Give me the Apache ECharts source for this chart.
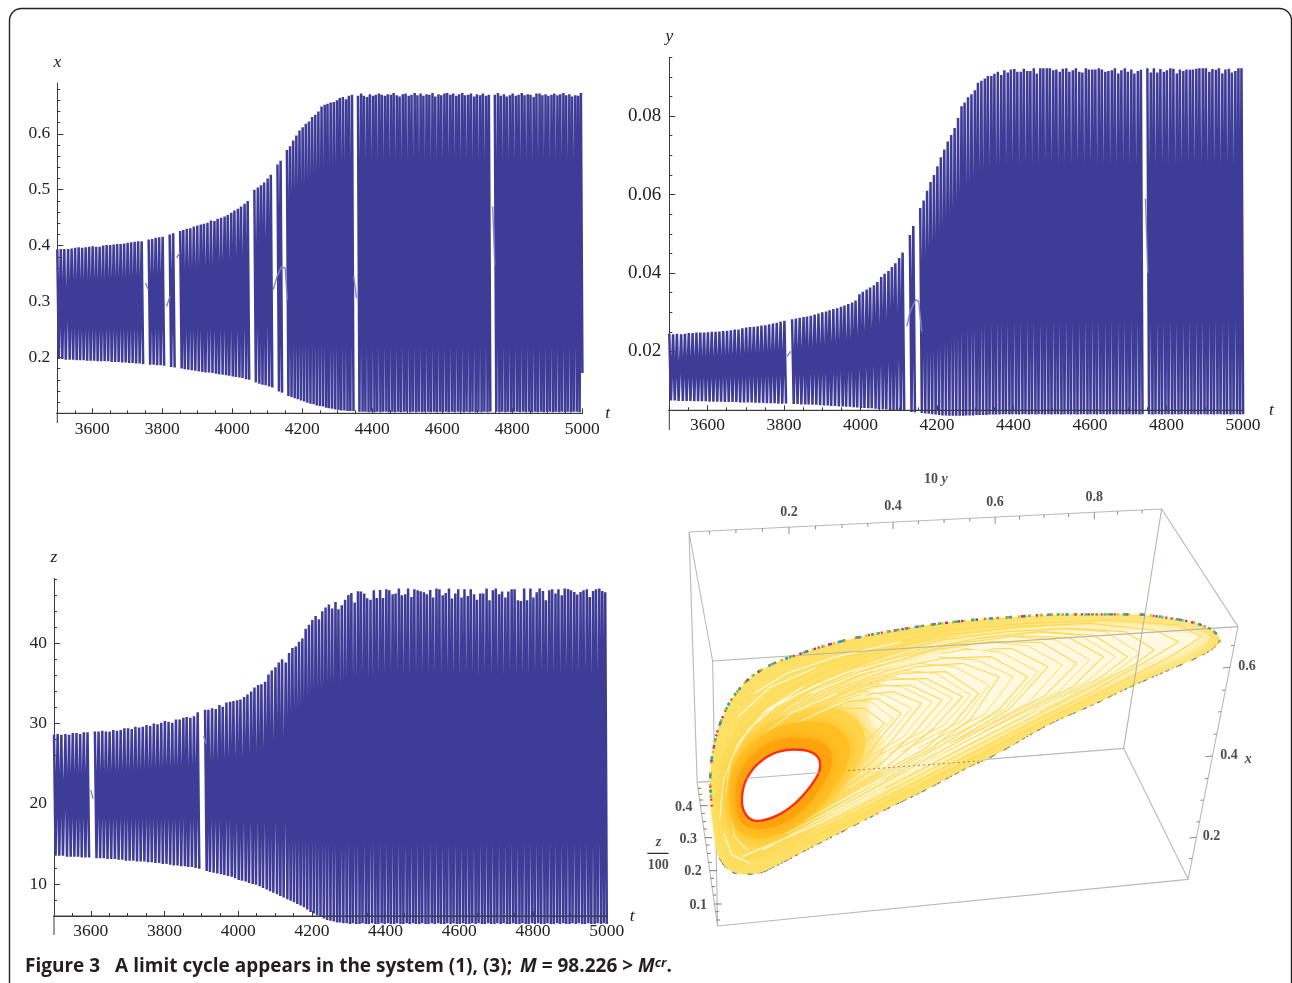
<!DOCTYPE html>
<html><head><meta charset="utf-8">
<script src="https://cdn.jsdelivr.net/npm/echarts@6/dist/echarts.min.js"></script>
<style>html,body{margin:0;padding:0;background:#fff}#c{width:1292px;height:983px}</style>
</head><body><div id="c"></div>
<script>
// ---------- shared time of each oscillation (one per spike) ----------
const cycleTimes = [
3500,3510,3520,3531,3541,3551,3561,3571,3581,3591,
3601,3611,3621,3631,3641,3651,3661,3671,3681,3691,
3701,3711,3721,3731,3741,3751,3761,3771,3781,3791,
3801,3811,3821,3831,3841,3851,3860,3870,3880,3890,
3900,3910,3919,3929,3939,3949,3958,3968,3978,3987,
3997,4006,4016,4025,4035,4044,4054,4063,4073,4082,
4091,4101,4110,4119,4129,4138,4147,4156,4165,4174,
4183,4192,4201,4210,4219,4228,4237,4246,4255,4264,
4272,4281,4290,4299,4307,4316,4325,4333,4342,4350,
4359,4368,4376,4385,4393,4402,4410,4419,4427,4436,
4444,4453,4461,4470,4478,4487,4495,4504,4512,4521,
4529,4538,4546,4555,4563,4572,4580,4589,4597,4606,
4614,4623,4631,4640,4648,4657,4665,4674,4682,4691,
4699,4708,4716,4725,4733,4742,4750,4759,4767,4776,
4784,4793,4801,4810,4818,4827,4835,4844,4852,4861,
4869,4878,4886,4895,4903,4912,4920,4929,4937,4946,
4954,4963,4971,4980,4988,4996];
const halfCycle = 4.3;

// ---------- x(t) ----------
const xPeaks = [
.393,.394,.394,.394,.395,.396,.397,.396,.397,.398,
.399,.398,.398,.400,.401,.401,.402,.403,.403,.404,
.405,.406,.407,.408,.408,null,.411,.412,.414,.415,
.416,null,.420,.422,null,.426,.428,.430,.431,.434,
.436,.438,.439,.441,.445,.444,.448,.450,.452,.455,
.459,.463,.466,.470,.475,.480,null,.500,.504,.508,
.513,.520,.527,null,.545,.552,null,.571,.578,.588,
.597,.606,.612,.618,.622,.630,.634,.640,.649,.652,
.654,.656,.657,.660,.664,.666,.662,.668,.670,null,
.668,.672,.668,.666,.671,.668,.670,.672,.670,.668,
.671,.670,.673,.669,.667,.671,.672,.668,.670,.673,
.669,.672,.668,.671,.670,.673,.667,.671,.669,.672,
.673,.670,.672,.668,.671,.673,.669,.670,.672,.667,
.671,.669,.672,.668,.670,null,.670,.673,.668,.671,
.667,.669,.672,.668,.670,.673,.669,.671,.670,.666,
.672,.672,.669,.671,.668,.670,.672,.669,.671,.673,
.669,.671,.667,.669,.668,.673];
const xTroughs = [
.197,.197,.196,.196,.196,.195,.195,.195,.194,.194,
.194,.193,.193,.193,.193,.192,.192,.192,.191,.191,
.190,.190,.189,.189,.188,null,.187,.187,.186,.186,
.185,null,.183,.182,null,.180,.179,.178,.177,.176,
.175,.174,.173,.173,.172,.171,.170,.169,.168,.167,
.166,.165,.164,.163,.161,.160,null,.155,.153,.151,
.150,.148,.146,null,.139,.137,null,.131,.129,.127,
.125,.123,.121,.119,.117,.116,.114,.113,.112,.110,
.109,.108,.107,.106,.105,.105,.104,.104,.104,null,
.103,.103,.103,.102,.103,.102,.103,.102,.103,.103,
.102,.103,.102,.103,.102,.103,.103,.102,.103,.102,
.103,.102,.103,.103,.102,.103,.102,.103,.102,.103,
.102,.103,.102,.103,.103,.102,.103,.102,.103,.102,
.103,.102,.103,.102,.103,null,.103,.102,.103,.102,
.103,.102,.103,.103,.102,.103,.102,.103,.102,.103,
.102,.103,.102,.103,.103,.102,.103,.102,.103,.102,
.103,.102,.103,.103,.102,.172];
const xKinks = [[[3752,.333],[3760,.321]],[[3812,.291],[3822,.309]],[[3841,.378],[3850,.387]],
 [[4117,.321],[4128,.345],[4140,.362],[4151,.36],[4157,.303]],[[4347,.3445],[4355,.306]],[[4744,.47],[4750,.365]]];

// ---------- y(t) ----------
const yPeaks = [
.0245,.0244,.0245,.0244,.0245,.0247,.0247,.0248,.0248,.0248,
.0249,.0250,.0250,.0251,.0252,.0253,.0254,.0256,.0256,.0259,
.0261,.0262,.0263,.0264,.0266,.0267,.0269,.0271,.0273,.0276,
.0278,null,.0282,.0284,.0286,.0288,.0289,.0291,.0294,.0297,
.0300,.0302,.0305,.0308,.0310,.0314,.0317,.0321,.0325,.0330,
.0346,.0352,.0358,.0363,.0369,.0377,.0390,.0398,.0405,.0415,
.0425,.0438,.0452,null,.0497,.0520,null,.0566,.0585,.0610,
.0632,.0650,.0672,.0695,.0715,.0735,.0752,.0770,.0795,.0825,
.0835,.0848,.0856,.0866,.0885,.0890,.0896,.0902,.0902,.0908,
.0913,.0905,.0917,.0911,.0919,.0920,.0913,.0913,.0921,.0915,
.0915,.0922,.0909,.0922,.0922,.0922,.0922,.0917,.0919,.0913,
.0921,.0922,.0913,.0917,.0922,.0913,.0911,.0922,.0919,.0919,
.0919,.0922,.0919,.0913,.0915,.0917,.0922,.0909,.0917,.0922,
.0913,.0919,.0909,.0915,.0918,null,.0922,.0911,.0922,.0911,
.0920,.0913,.0917,.0922,.0921,.0909,.0919,.0915,.0919,.0918,
.0919,.0921,.0922,.0922,.0922,.0913,.0920,.0918,.0922,.0909,
.0919,.0921,.0911,.0915,.0922,.0922];
const yTroughs = [
.0075,.0075,.0074,.0074,.0074,.0074,.0073,.0073,.0073,.0073,
.0072,.0072,.0072,.0072,.0071,.0071,.0071,.0071,.0070,.0070,
.0070,.0070,.0069,.0069,.0069,.0068,.0068,.0068,.0067,.0067,
.0067,null,.0066,.0066,.0065,.0065,.0065,.0064,.0064,.0063,
.0062,.0062,.0061,.0061,.0060,.0060,.0059,.0059,.0058,.0057,
.0056,.0056,.0055,.0055,.0054,.0053,.0053,.0052,.0051,.0051,
.0050,.0049,.0048,null,.0046,.0045,null,.0043,.0042,.0041,
.0040,.0039,.0038,.0037,.0037,.0036,.0036,.0036,.0036,.0036,
.0037,.0037,.0037,.0038,.0038,.0038,.0038,.0039,.0039,.0039,
.0039,.0040,.0040,.0039,.0040,.0040,.0039,.0040,.0040,.0039,
.0040,.0039,.0040,.0040,.0039,.0040,.0039,.0040,.0040,.0039,
.0040,.0040,.0039,.0040,.0039,.0040,.0040,.0039,.0040,.0040,
.0039,.0040,.0040,.0039,.0040,.0039,.0040,.0040,.0039,.0040,
.0040,.0039,.0040,.0039,.0040,null,.0040,.0039,.0040,.0040,
.0039,.0040,.0040,.0039,.0040,.0039,.0040,.0040,.0039,.0040,
.0040,.0039,.0040,.0040,.0039,.0040,.0039,.0040,.0040,.0039,
.0040,.0039,.0040,.0040,.0039,.0040];
const yKinks = [[[3808,.0187],[3817,.020]],[[4121,.0264],[4130,.0302],[4144,.0332],[4152,.0328],[4160,.0251]],[[4745,.059],[4751,.040]]];

// ---------- z(t) ----------
const zPeaks = [
28.6,28.7,28.6,28.7,28.6,28.8,28.8,28.7,28.9,28.9,
null,29.0,29.0,29.1,29.0,29.0,29.2,29.1,29.2,29.4,
29.4,29.3,29.6,29.5,29.6,29.8,29.7,30.0,29.9,30.1,
30.3,30.2,30.1,30.5,30.5,30.7,30.8,30.7,30.9,31.4,
null,31.7,31.7,31.9,31.8,32.3,32.1,32.6,32.7,32.8,
32.9,33.0,33.3,33.6,34.0,34.5,34.8,34.9,35.2,36.1,
36.6,37.0,37.6,38.0,37.6,38.8,39.4,39.6,40.2,40.6,
41.8,42.3,42.9,43.4,43.0,44.0,44.45,44.82,44.32,45.15,
44.24,44.74,45.44,46.03,46.27,45.07,46.48,46.44,46.19,45.61,
45.44,46.6,45.65,46.65,45.65,46.73,46.6,46.11,46.19,46.82,
45.99,46.11,46.82,45.78,46.73,46.6,46.48,46.36,46.11,46.65,
45.7,46.82,46.73,45.99,46.27,46.82,45.57,46.19,46.73,45.7,
46.73,45.9,46.73,46.11,45.44,46.19,46.19,46.82,45.36,46.6,
46.82,46.11,46.44,45.7,46.44,46.73,46.73,45.36,45.27,46.82,
45.36,46.82,45.7,46.36,46.82,46.52,45.36,46.6,46.73,46.19,
46.73,45.99,46.82,46.78,46.6,46.4,46.07,46.4,46.6,46.73,
45.78,46.52,46.73,46.82,46.52,46.36];
const zTroughs = [
13.5,13.5,13.5,13.4,13.4,13.4,13.4,13.3,13.3,13.3,
null,13.2,13.2,13.2,13.1,13.1,13.1,13.0,13.0,12.9,
12.9,12.9,12.8,12.8,12.8,12.7,12.7,12.6,12.6,12.5,
12.5,12.4,12.3,12.3,12.2,12.2,12.1,12.1,12.0,11.9,
null,11.6,11.5,11.4,11.3,11.2,11.1,11.0,10.9,10.7,
10.5,10.4,10.3,10.1,10.0,9.9,9.7,9.5,9.3,9.1,
8.9,8.7,8.5,8.3,8.1,7.9,7.7,7.5,7.3,7.1,
6.8,6.5,6.3,6.1,5.9,5.7,5.5,5.4,5.3,5.2,
5.2,5.1,5.1,5.0,5.1,5.0,5.0,5.1,5.0,5.0,
5.1,5.0,5.0,5.1,5.0,5.1,5.0,5.0,5.1,5.0,
5.0,5.1,5.0,5.1,5.0,5.0,5.1,5.0,5.0,5.1,
5.0,5.1,5.0,5.0,5.1,5.0,5.1,5.0,5.0,5.1,
5.0,5.0,5.1,5.0,5.1,5.0,5.0,5.1,5.0,5.0,
5.1,5.0,5.1,5.0,5.0,5.1,5.0,5.0,5.1,5.0,
5.0,5.1,5.0,5.1,5.0,5.0,5.1,5.0,5.0,5.1,
5.0,5.1,5.0,5.0,5.1,5.0,5.1,5.0,5.0,5.1,
5.0,5.0,5.1,5.0,5.1,5.0];
const zKinks = [[[3600,21.7],[3606,20.6]],[[3906,28.4],[3913,27.5]]];

// ---------- axis ticks ----------
const tTicksMajor = [3600,3800,4000,4200,4400,4600,4800,5000];
const tTicksMinor = [3500,3550,3650,3700,3750,3850,3900,3950,4050,4100,4150,4250,4300,4350,4450,4500,4550,4650,4700,4750,4850,4900,4950];
const xTickLabels = [0.2,0.3,0.4,0.5,0.6];
const xTicksMinor = [.12,.14,.16,.18,.22,.24,.26,.28,.32,.34,.36,.38,.42,.44,.46,.48,.52,.54,.56,.58,.62,.64,.66,.68];
const yTickLabels = [0.02,0.04,0.06,0.08];
const yTicksMinor = [.01,.015,.025,.03,.035,.045,.05,.055,.065,.07,.075,.085,.09,.095];
const zTickLabels = [10,20,30,40];
const zTicksMinor = [8,12,14,16,18,22,24,26,28,32,34,36,38,42,44,46,48];

// ---------- 3D panel, projected plane (picture coordinates of the drawn box) ----------
const boxBack = [[[120,216],[1278,147],[1465,500]],[[120,216],[140,967]],[[120,216],[178,603]],[[178,603],[190,1398]],
 [[140,967],[190,1398],[1343,1258],[1465,500]],[[1343,1258],[1185,865],[140,967]]];
const boxFront = [[[178,603],[1465,500]],[[1278,147],[1185,865]]];
const holeBackEdge = [[262,955],[440,938]];
const dottedTrace = [[510,932],[640,920],[830,903]];
const outerContour = [[172,960],[178,880],[198,785],[238,695],[300,628],[400,578],[500,542],[620,512],[760,487],[900,472],[1050,463],[1200,463],[1300,475],[1380,497],[1415,525],[1420,545],[1405,565],[1370,590],[1300,628],[1200,682],[1100,740],[1000,795],[870,885],[800,925],[700,990],[600,1050],[480,1125],[400,1175],[330,1220],[290,1240],[250,1243],[215,1228],[192,1190],[180,1110],[172,1020]];
const rimUpper = [[176,1040],[172,960],[178,880],[198,785],[238,695],[300,628],[400,578],[500,542],[620,512],[760,487],[900,472],[1050,463],[1200,463],[1300,475],[1380,497],[1415,525],[1420,545]];
const rimLower = [[1420,545],[1405,565],[1370,590],[1300,628],[1200,682],[1100,740],[1000,795],[870,885],[800,925],[700,990],[600,1050],[480,1125],[400,1175],[330,1220],[290,1240],[250,1243],[215,1228],[192,1190]];
const paleRegion = [[1395,530],[1300,502],[1150,492],[1000,500],[850,518],[700,555],[560,615],[440,680],[340,760],[280,850],[260,960],[262,1080],[300,1160],[400,1120],[600,1005],[800,880],[1000,755],[1200,645],[1340,578]];
const whiteRegion = [[1375,530],[1270,515],[1130,510],[1000,520],[860,545],[720,590],[600,660],[560,760],[600,850],[600,950],[820,840],[1000,730],[1180,635],[1320,570]];
const glowRegion = [[205,1010],[215,920],[255,840],[320,785],[400,750],[480,745],[540,790],[550,870],[510,960],[450,1050],[380,1120],[300,1160],[240,1140],[212,1080]];
const glowInner = [[218,1005],[228,925],[268,855],[330,805],[405,785],[470,795],[510,840],[510,905],[475,985],[420,1065],[350,1120],[285,1135],[235,1105]];
const orangeRegion = [[234,1005],[246,935],[282,878],[340,838],[405,835],[455,855],[470,905],[445,975],[398,1050],[338,1096],[280,1105],[245,1080]];
const holeContour = [[250,1010],[260,960],[290,910],[340,875],[400,870],[435,890],[440,930],[420,975],[380,1030],[330,1070],[280,1082],[255,1055]];
const chevronLoops = [
 [[230,1225],[500,1093],[800,904],[1100,715],[1300,590],[1375,530],[1320,495],[1150,480],[950,490],[760,510],[600,555],[450,615],[330,690],[245,790],[205,900],[190,1020],[195,1130],[230,1225]],
 [[240,1215],[510,1070],[810,882],[1100,700],[1260,590],[1320,545],[1260,510],[1100,490],[930,500],[750,525],[600,570],[460,630],[340,705],[255,800],[215,905],[200,1020],[205,1130],[240,1215]],
 [[250,1205],[520,1050],[820,860],[1080,698],[1210,615],[1260,570],[1190,515],[1050,505],[900,515],[740,540],[590,590],[460,650],[350,720],[265,810],[225,915],[210,1020],[215,1125],[250,1205]],
 [[260,1195],[530,1030],[820,845],[1130,651],[1195,590],[1110,525],[980,515],[830,535],[680,570],[540,625],[420,690],[315,770],[245,870],[220,960],[218,1060],[225,1130],[260,1195]],
 [[270,1185],[540,1014],[800,844],[1060,680],[1135,590],[1050,532],[920,528],[770,552],[620,597],[480,665],[365,735],[280,825],[240,925],[225,1025],[228,1120],[270,1185]],
 [[280,1175],[550,1000],[780,845],[990,709],[1070,610],[985,548],[860,545],[720,570],[580,620],[450,690],[345,765],[270,860],[240,960],[235,1060],[245,1130],[280,1175]],
 [[290,1165],[560,985],[760,850],[905,747],[1000,620],[910,565],[790,570],[660,600],[530,650],[420,720],[325,800],[265,890],[245,980],[240,1070],[262,1140],[290,1165]],
 [[300,1155],[570,970],[740,855],[880,748],[950,650],[860,590],[740,595],[610,630],[490,685],[390,750],[310,830],[265,915],[250,1000],[250,1080],[270,1135],[300,1155]],
 [[310,1145],[580,955],[720,860],[810,777],[880,650],[790,610],[680,620],[560,660],[450,715],[360,780],[295,860],[260,940],[255,1020],[262,1090],[280,1130],[310,1145]],
 [[320,1135],[590,940],[700,865],[770,788],[830,700],[750,635],[640,640],[530,680],[430,735],[345,805],[285,880],[258,960],[258,1040],[270,1100],[320,1135]],
 [[330,1125],[600,925],[720,804],[790,710],[700,655],[600,660],[500,700],[410,755],[335,825],[280,900],[258,980],[262,1055],[285,1105],[330,1125]],
 [[340,1115],[590,912],[670,821],[740,720],[660,675],[570,680],[480,720],[400,770],[325,840],[280,915],[262,995],[270,1065],[295,1105],[340,1115]],
 [[350,1105],[570,905],[620,837],[690,730],[620,695],[540,705],[460,740],[385,790],[320,855],[280,930],[265,1005],[275,1070],[305,1100],[350,1105]],
 [[360,1095],[540,920],[580,847],[640,760],[580,715],[510,725],[440,760],[370,810],[315,870],[280,945],[268,1015],[280,1075],[315,1095],[360,1095]],
 [[370,1085],[500,950],[540,857],[600,790],[550,745],[490,745],[425,780],[360,830],[310,885],[280,955],[270,1025],[285,1075],[370,1085]],
 [[380,1075],[480,960],[520,855],[570,830],[520,770],[465,770],[410,800],[350,845],[305,900],[278,965],[272,1035],[290,1075],[380,1075]]
];
const chevronArms = [
 [[1030,505],[1140,515],[1225,580],[1160,640],[980,755]],
 [[970,515],[1080,527],[1165,590],[1095,665],[915,780]],
 [[910,530],[1020,540],[1102,600],[1025,695],[840,815]],
 [[850,545],[950,557],[1035,615],[950,730],[770,845]],
 [[790,565],[885,577],[975,635],[893,748],[720,855]],
 [[730,590],[825,600],[915,650],[845,762],[680,865]],
 [[680,610],[770,620],[855,675],[790,782],[640,875]],
 [[640,630],[725,640],[810,705],[745,795],[610,880]],
 [[600,650],[680,660],[765,715],[695,812],[580,890]],
 [[560,670],[640,680],[715,725],[645,830],[550,900]],
 [[530,690],[600,705],[665,745],[600,842],[530,905]],
 [[500,720],[565,725],[620,775],[560,852],[510,915]]
];
const whiteStreaks = [[[300,1170],[560,1000],[860,810],[1060,700]],[[330,1130],[540,990],[760,850]],[[420,700],[540,640],[700,590],[860,565]],
 [[300,860],[380,790],[480,735],[600,680]],[[240,1010],[245,940],[290,860]],[[225,1080],[232,1130],[262,1170]],[[360,1120],[470,1050],[600,960]],
 [[210,1000],[222,900],[265,810],[340,730],[440,670]],[[222,1040],[235,940],[285,840],[370,760],[480,700]],[[195,1080],[205,960],[240,850],[310,750],[400,680]],
 [[300,760],[390,700],[500,640],[650,590]],[[205,1120],[225,1185],[270,1210]],[[250,1190],[420,1100],[600,985]],[[280,700],[360,640],[480,590],[640,545]],[[240,770],[320,680],[430,625]]];
const topTicks = [[170,213,170,223],[235,209,235,219],[300,205,300,215],[365,201,365,222],[430,198,430,208],[495,194,495,204],[558,190,558,200],[620,186,620,207],[682,182,682,192],[745,179,745,189],[808,175,808,185],[870,171,870,192],[930,168,930,178],[990,164,990,174],[1050,161,1050,171],[1113,157,1113,178],[1170,154,1170,164],[1230,150,1230,160]];
const rightTicks = [[1456,556,1448,557],[1445,622,1428,624],[1434,690,1426,691],[1424,755,1416,756],[1413,822,1405,823],[1402,888,1385,890],[1392,955,1384,956],[1381,1020,1373,1021],[1371,1085,1363,1086],[1363,1132,1346,1134],[1353,1195,1345,1196]];
const leftTicks = [[142,985,150,985],[144,1003,152,1003],[146,1020,154,1020],[148,1037,166,1037],[151,1060,159,1060],[154,1085,162,1085],[156,1107,164,1107],[159,1133,177,1133],[162,1155,170,1155],[165,1180,173,1180],[168,1207,176,1207],[171,1232,189,1232],[173,1255,181,1255],[176,1280,184,1280],[179,1305,187,1305],[182,1332,200,1332],[185,1355,193,1355],[188,1380,196,1380]];
const boxLabels = [[365,157,'0.2'],[620,140,'0.4'],[870,127,'0.6'],[1113,112,'0.8'],[1487,618,'0.6'],[1443,885,'0.4'],[1400,1128,'0.2'],[107,1042,'0.4'],[118,1137,'0.3'],[130,1233,'0.2'],[143,1337,'0.1'],[45,1215,'100']];
const boxAxisNames = [[725,57,'10 {i|y}'],[1490,897,'{i|x}'],[45,1148,'{i|z}']];
const fractionBar = [[18,1180],[70,1180]];

// ---------- page ----------
const INK = '#3e3c97', AX = '#3a3a3a', SERIF = '"Liberation Serif","DejaVu Serif",serif', SANS = '"Open Sans","Noto Sans",sans-serif';
const xAxes = [], yAxes = [], grids = [], series = [];
let zz = 5;
function zigzag(hi, lo){
  const out = [];
  cycleTimes.forEach((t,i)=>{
    if (hi[i]==null) out.push([t,null]);
    else { out.push([t,hi[i]]); out.push([t+halfCycle,lo[i]]); }
  });
  return out;
}
function joined(list){ const o=[]; list.forEach((l,i)=>{ if(i) o.push([null,null]); l.forEach(p=>o.push(p)); }); return o; }
function segs(list){ return joined(list.map(s=>[[s[0],s[1]],[s[2],s[3]]])); }

function timePanel(p){
  const gi = grids.length;
  grids.push({left:p.left,top:p.top,width:p.width,height:p.height,containLabel:false});
  const axisLine = {onZero:false,lineStyle:{color:AX,width:1}};
  const tickStyle = {color:AX,width:1};
  const xi = xAxes.length, yi = yAxes.length;
  xAxes.push({gridIndex:gi,type:'value',position:'bottom',min:3500,max:5000,interval:100,splitLine:{show:false},axisLine,
    axisTick:{inside:true,length:5,customValues:tTicksMajor,lineStyle:tickStyle},
    axisLabel:{customValues:tTicksMajor,margin:p.tMargin,color:'#222',fontFamily:SERIF,fontSize:p.fs,formatter:v=>String(v),showMaxLabel:true},
    name:'t',nameLocation:'end',nameGap:p.tGap,nameMoveOverlap:false,nameTextStyle:{fontFamily:SERIF,fontStyle:'italic',fontSize:p.fs,color:'#222'}});
  xAxes.push({gridIndex:gi,type:'value',position:'bottom',min:3500,max:5000,interval:100,splitLine:{show:false},axisLine:{show:false,onZero:false},
    axisTick:{inside:true,length:3,customValues:tTicksMinor,lineStyle:tickStyle},axisLabel:{show:false}});
  yAxes.push({gridIndex:gi,type:'value',position:'left',min:p.yMin,max:p.yMax,splitLine:{show:false},axisLine,
    axisTick:{inside:true,length:6,customValues:p.labels,lineStyle:tickStyle},
    axisLabel:{customValues:p.labels,margin:p.yMargin,color:'#222',fontFamily:SERIF,fontSize:p.yFs||p.fs,formatter:v=>v.toFixed(p.dec)},
    name:p.name,nameLocation:'end',nameGap:p.nameGap,nameMoveOverlap:false,nameTextStyle:{fontFamily:SERIF,fontStyle:'italic',fontSize:p.fs,color:'#222'}});
  yAxes.push({gridIndex:gi,type:'value',position:'left',min:p.yMin,max:p.yMax,splitLine:{show:false},axisLine:{show:false,onZero:false},
    axisTick:{inside:true,length:3,customValues:p.minor,lineStyle:tickStyle},axisLabel:{show:false}});
  const base = {type:'line',xAxisIndex:xi,yAxisIndex:yi,showSymbol:false,symbol:'none',clip:false,silent:true,animation:false,connectNulls:false};
  series.push({...base,name:p.name,data:zigzag(p.hi,p.lo),lineStyle:{color:INK,width:p.lw,join:'bevel'},z:zz++});
  series.push({...base,data:joined(p.kinks),lineStyle:{color:'#8583c2',width:1.4},z:zz++});
  series.push({...base,data:joined([[[p.tFrom,p.yMin],[p.tTo,p.yMin]],[[3500,p.yDown],[3500,p.yMin]]]),lineStyle:{color:AX,width:1},z:zz++});
}
timePanel({left:57.3,top:83,width:525,height:330.3,yMin:.1,yMax:.691,labels:xTickLabels,minor:xTicksMinor,dec:1,name:'x',hi:xPeaks,lo:xTroughs,kinks:xKinks,
  lw:2.5,fs:17.5,tMargin:7,yMargin:7,tGap:23,nameGap:12,tFrom:3468,tTo:5028,yDown:.0826});
timePanel({left:669.3,top:57.3,width:573.7,height:353,yMin:.005,yMax:.095,labels:yTickLabels,minor:yTicksMinor,dec:2,name:'y',hi:yPeaks,lo:yTroughs,kinks:yKinks,
  lw:2.5,fs:17.5,yFs:19,tMargin:6,yMargin:8,tGap:26,nameGap:12,tFrom:3470,tTo:5049,yDown:0});
timePanel({left:54,top:578.3,width:552.7,height:337.7,yMin:6,yMax:48.1,labels:zTickLabels,minor:zTicksMinor,dec:0,name:'z',hi:zPeaks,lo:zTroughs,kinks:zKinks,
  lw:2.5,fs:17.5,tMargin:6,yMargin:7,tGap:23,nameGap:12,tFrom:3467,tTo:5030,yDown:3.63});

// 3D panel in its own hidden cartesian plane
const gi3 = grids.length;
grids.push({left:640,top:460,width:640,height:480});
const xi3 = xAxes.length, yi3 = yAxes.length;
xAxes.push({gridIndex:gi3,type:'value',min:0,max:1568,show:false});
yAxes.push({gridIndex:gi3,type:'value',min:0,max:1440,inverse:true,show:false});
const lineBase3 = {type:'line',xAxisIndex:xi3,yAxisIndex:yi3,showSymbol:false,symbol:'none',clip:false,silent:true,animation:false};
function line3(data,style,smooth){ series.push({...lineBase3,data,lineStyle:style,smooth:smooth||false,z:zz++}); }
function poly3(points,fill,opts){
  opts = opts||{};
  series.push({type:'custom',xAxisIndex:xi3,yAxisIndex:yi3,clip:false,silent:true,animation:false,z:zz++,data:[[0,0]],
    renderItem:(params,api)=>({type:'polygon',shape:{points:points.map(p=>api.coord(p)),smooth:opts.smooth==null?0.35:opts.smooth},
      style:{fill,stroke:opts.stroke||null,lineWidth:opts.lw||0,shadowBlur:opts.blur||0,shadowColor:opts.blur?fill:null}})});
}
const BOX = {color:'#b9b9b9',width:1.1};
line3(joined(boxBack),BOX);
line3(segs(topTicks),{color:'#8d8d8d',width:1});
line3(segs(rightTicks),{color:'#8d8d8d',width:1});
line3(segs(leftTicks),{color:'#777',width:1});
poly3(outerContour,'#ffe066');
poly3(paleRegion,'#ffeda6',{blur:10});
poly3(whiteRegion,'#fff9e2',{blur:22});
poly3(glowRegion,'#ffd44a',{blur:22});
chevronLoops.forEach(l=>line3(l,{color:'#ffd84f',width:1.1}));
chevronArms.forEach(l=>line3(l,{color:'#ffdc62',width:1}));
line3(joined(whiteStreaks),{color:'#fffdf0',width:1.1});
poly3(glowInner,'#ffbe22',{blur:14});
poly3(orangeRegion,'#ffa20e',{blur:8});
poly3(holeContour,'#ffffff',{stroke:'#ff2e14',lw:2.4});
line3(holeBackEdge,{color:'#b9b9b9',width:1});
line3(dottedTrace,{color:'#8a8a6a',width:1,type:[2,3]});
line3(joined(boxFront),{color:'#b5b5a8',width:1.1});
[['#6a35c4',0,[2,13]],['#2fb56a',3,[3,14]],['#d4307f',7,[2,11]],['#27a5cf',10,[3,16]],['#e2b400',12,[2,9]]].forEach(c=>{
  line3(rimUpper,{color:c[0],width:2.4,type:c[2],dashOffset:c[1]},0.4);
  line3(rimLower,{color:c[0],width:1,type:c[2],dashOffset:c[1]},0.4);
});
line3(fractionBar,{color:'#222',width:1.2});
const boxRich = {i:{fontFamily:SERIF,fontStyle:'italic',fontWeight:'bold',fontSize:14,color:'#222'}};
series.push({type:'scatter',xAxisIndex:xi3,yAxisIndex:yi3,clip:false,silent:true,animation:false,z:zz++,symbolSize:1,itemStyle:{color:'rgba(0,0,0,0)'},
  data:boxLabels.concat(boxAxisNames),
  label:{show:true,position:'inside',align:'center',verticalAlign:'middle',color:'#222',fontFamily:SERIF,fontWeight:'bold',fontSize:14,formatter:p=>p.data[2],rich:boxRich}});

const capBold = {fontFamily:SANS,fontWeight:'bold',fontSize:19,color:'#231f20'};
const option = {
  animation:false,backgroundColor:'#fff',
  title:{left:25,top:957,padding:0,
    text:'{b|Figure 3}{g|}{b|A limit cycle appears in the system (1), (3);}{h|}{i|M}{b| = 98.226 > }{i|M}{s|cr}{b|.}',
    textStyle:{rich:{
      b:capBold,
      g:{width:15,fontSize:19},
      h:{width:8,fontSize:19},
      i:{...capBold,fontStyle:'italic'},
      s:{...capBold,fontStyle:'italic',fontSize:13,verticalAlign:'top'}
    }}},
  grid:grids,xAxis:xAxes,yAxis:yAxes,series,
  graphic:[{type:'rect',silent:true,z:0,shape:{x:9.5,y:8.5,width:1282,height:990,r:12},style:{fill:'none',stroke:'#222',lineWidth:1.4}}]
};
echarts.init(document.getElementById('c'),null,{renderer:'canvas'}).setOption(option);
</script></body></html>
